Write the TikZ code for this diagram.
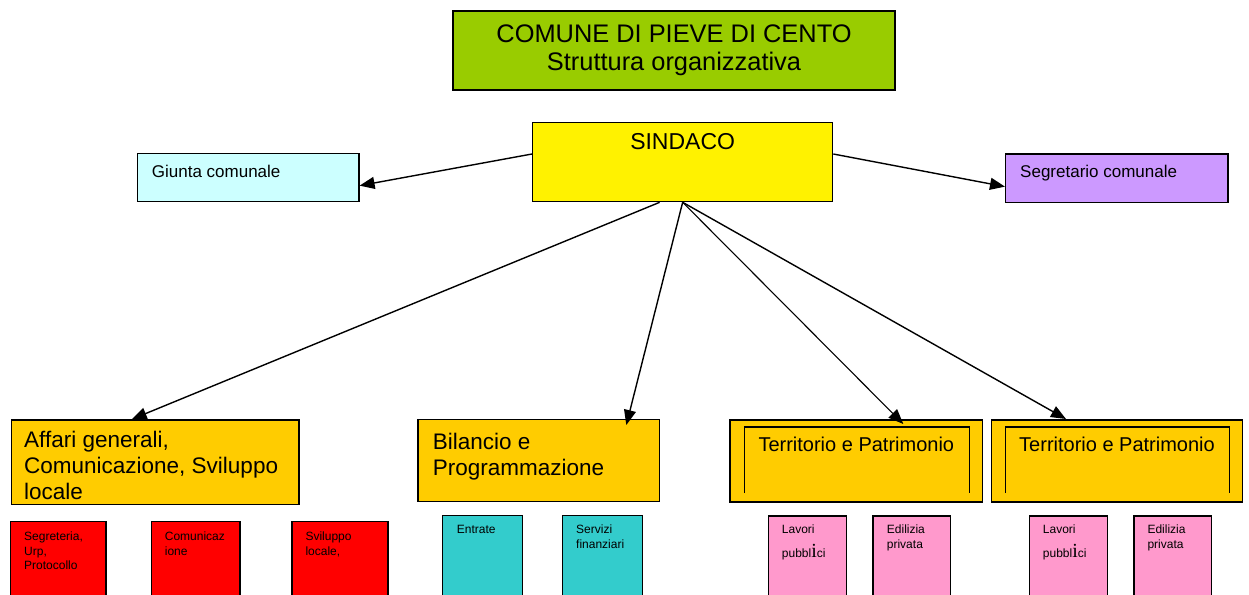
\documentclass[tikz,border=0pt]{standalone}
\usepackage{fontspec}
\setmainfont{Liberation Sans}
\newfontfamily\serifi{Liberation Serif}
\usetikzlibrary{arrows.meta}

\definecolor{titlegreen}{HTML}{99CC00}
\definecolor{giuntacyan}{HTML}{CCFFFF}
\definecolor{segrlilac}{HTML}{CC99FF}
\definecolor{areagold}{HTML}{FFCC00}
\definecolor{servcyan}{HTML}{33CCCC}
\definecolor{servpink}{HTML}{FF99CC}

\begin{document}
\begin{tikzpicture}[
		x=1pt, y=-1pt,
		box/.style={
			shape=rectangle,
			draw,
			line width=1.3pt,
			anchor=north west,
			inner sep=0pt
		},
		lbl/.style={
			anchor=north west,
			align=left,
			inner sep=0pt
		},
		bigfont/.style={font={\fontsize{22.5}{26}\selectfont}},
		midfont/.style={font={\fontsize{17}{20}\selectfont}},
		smallfont/.style={font={\fontsize{12}{14.5}\selectfont}},
		office/.style={box, minimum height=90pt},
		arr/.style={-{Triangle[length=15pt,width=12pt]}, line width=1.4pt}
		]
		
		\useasboundingbox (0,0) rectangle (1249,594);
		
		\node[
		box,
		anchor=center,
		fill=titlegreen,
		minimum width=442pt,
		minimum height=79pt,
		align=center,
		font={\fontsize{25.4}{28}\selectfont}
		] (comune) at (674,50.5) {COMUNE DI PIEVE DI CENTO\\Struttura organizzativa};
		
		\node[
		box,
		fill=yellow,
		minimum width=300pt,
		minimum height=79pt,
		label={[lbl, anchor=north, yshift=-11.5pt, font={\fontsize{23}{26}\selectfont}]north:SINDACO}
		] (sindaco) at (532,122) {};
		
		\node[
		box,
		fill=giuntacyan,
		minimum width=221.6pt,
		minimum height=48pt,
		label={[lbl, midfont, xshift=15pt, yshift=-12.5pt]north west:Giunta comunale}
		] (giunta) at (136.7,152.7) {};
		
		\node[
		box,
		fill=segrlilac,
		minimum width=222.3pt,
		minimum height=48.4pt,
		label={[lbl, midfont, xshift=15pt, yshift=-12pt]north west:Segretario comunale}
		] (segretario) at (1005,153.3) {};
		
		%% aree
		
		\node[
		box,
		fill=areagold,
		minimum width=287.6pt,
		minimum height=84.7pt,
		label={[lbl, bigfont, xshift=13.3pt, yshift=-11.4pt]north west:Affari generali,\\Comunicazione, Sviluppo\\locale}
		] (affari) at (10.7,419.3) {};
		
		\node[
		box,
		fill=areagold,
		minimum width=241.7pt,
		minimum height=81.7pt,
		label={[lbl, bigfont, xshift=15.4pt, yshift=-13.7pt]north west:Bilancio e\\Programmazione}
		] (bilancio) at (417.3,419) {};
		
		\node[
		box,
		fill=areagold,
		line width=1.6pt,
		minimum width=252.4pt,
		minimum height=82pt,
		label={[lbl, anchor=north, yshift=-17.5pt, font={\fontsize{20}{24}\selectfont}]north:Territorio e Patrimonio}
		] (territorio) at (729.3,419) {};
		
		\node[
		box,
		fill=areagold,
		line width=1.6pt,
		minimum width=251pt,
		minimum height=82pt,
		label={[lbl, anchor=north, yshift=-17.5pt, font={\fontsize{20}{24}\selectfont}]north:Territorio e Patrimonio}
		] (patrimonio) at (990.7,419) {};
		
		\draw[line width=1.3pt] ([shift={(15,74)}]territorio.north west) |- ([shift={(-14,8)}]territorio.north east) -- ([shift={(-14,74)}]territorio.north east);
		\draw[line width=1.3pt] ([shift={(15,74)}]patrimonio.north west) |- ([shift={(-14,8)}]patrimonio.north east) -- ([shift={(-14,74)}]patrimonio.north east);
		
		%% uffici
		
		\node[office, fill=red, minimum width=95.3pt,
		label={[lbl, smallfont, xshift=14pt, yshift=-10.7pt]north west:Segreteria,\\Urp,\\Protocollo}] (segreteria) at (10,521) {};
		\node[office, fill=red, minimum width=88.6pt,
		label={[lbl, smallfont, xshift=14pt, yshift=-10.7pt]north west:Comunicaz\\ione}] (comunicazione) at (150.7,521) {};
		\node[office, fill=red, minimum width=96pt,
		label={[lbl, smallfont, xshift=14pt, yshift=-10.7pt]north west:Sviluppo\\locale,}] (sviluppo) at (291.3,521) {};
		
		\node[office, fill=servcyan, minimum width=80pt,
		label={[lbl, smallfont, xshift=15pt, yshift=-10pt]north west:Entrate}] (entrate) at (441.7,515) {};
		\node[office, fill=servcyan, minimum width=80pt,
		label={[lbl, smallfont, xshift=14.3pt, yshift=-10pt]north west:Servizi\\finanziari}] (finanziari) at (561.7,515) {};
		
		\node[office, fill=servpink, minimum width=78.3pt,
		label={[lbl, smallfont, xshift=14pt, yshift=-9.7pt]north west:Lavori\\[9pt]pubbl{\serifi\fontsize{20}{20}\selectfont i}ci}] (lavori) at (767.7,515.3) {};
		\node[office, fill=servpink, minimum width=77.7pt,
		label={[lbl, smallfont, xshift=14.4pt, yshift=-9.7pt]north west:Edilizia\\privata}] (edilizia) at (872.3,515.3) {};
		\node[office, fill=servpink, minimum width=77.7pt,
		label={[lbl, smallfont, xshift=13.7pt, yshift=-9.7pt]north west:Lavori\\[9pt]pubbl{\serifi\fontsize{20}{20}\selectfont i}ci}] (lavori2) at (1029,515.3) {};
		\node[office, fill=servpink, minimum width=77.4pt,
		label={[lbl, smallfont, xshift=14pt, yshift=-9.7pt]north west:Edilizia\\privata}] (edilizia2) at (1133.3,515.3) {};
		
		%%%%%%%%%%
		
		\draw[arr] ([yshift=-32pt]sindaco.north west) -- ([yshift=-8.3pt]giunta.east);
		\draw[arr] ([yshift=-32pt]sindaco.north east) -- ([yshift=-8.5pt]segretario.west);
		
		\draw[arr] ([xshift=-23pt]sindaco.south) -- ([xshift=121pt]affari.north west);
		\draw[arr] (sindaco.south) -- ([xshift=209pt,yshift=-6pt]bilancio.north west);
		\draw[arr, line width=1.1pt] (sindaco.south) -- ([xshift=174pt,yshift=-5pt]territorio.north west);
		\draw[arr] (sindaco.south) -- ([xshift=75.3pt]patrimonio.north west);
		
	\end{tikzpicture}
\end{document}
